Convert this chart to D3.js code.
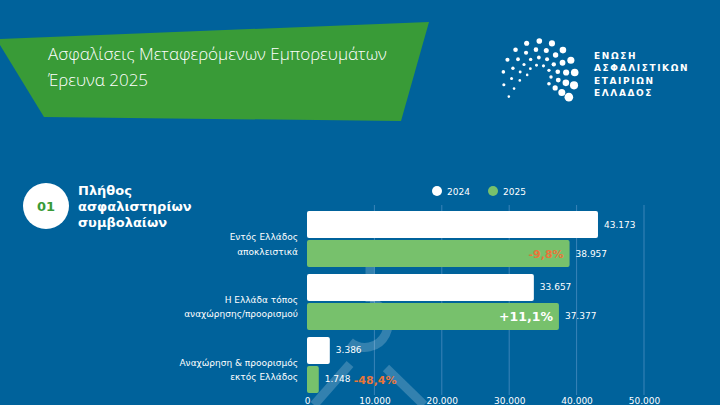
<!DOCTYPE html>
<html>
<head>
<meta charset="utf-8">
<script src="https://cdn.jsdelivr.net/npm/d3@7/dist/d3.min.js"></script>
<style>
  html, body { margin: 0; padding: 0; background: #00629b; }
  svg { display: block; }
</style>
</head>
<body>
<div id="chart"></div>
<script>
// data
const categories = [
  ["Εντός Ελλάδος", "αποκλειστικά"],
  ["Η Ελλάδα τόπος", "αναχώρησης/προορισμού"],
  ["Αναχώρηση & προορισμός", "εκτός Ελλάδος"]
];
const years = ["2024", "2025"];
const values2024 = [43173, 33657, 3386];
const values2025 = [38957, 37377, 1748];
const changes = ["-9,8%", "+11,1%", "-48,4%"];
const xTicks = [0, 10000, 20000, 30000, 40000, 50000];

const W = 720, H = 405;
const blue = "#00629b", green = "#399b37", barGreen = "#77c16c", orange = "#e8763a";
const fmt = d3.formatLocale({ decimal: ",", thousands: ".", grouping: [3] }).format(",");

const svg = d3.select("#chart").append("svg")
  .attr("width", W).attr("height", H)
  .style("font-family", "'DejaVu Sans', Verdana, sans-serif");

svg.append("rect").attr("width", W).attr("height", H).attr("fill", blue);

// title banner
svg.append("polygon")
  .attr("points", "0,39 429,22 401,121 44,117 0,45")
  .attr("fill", green);

const title = svg.append("text")
  .attr("fill", "#fff")
  .style("font-family", "'Open Sans', sans-serif")
  .style("font-weight", 300)
  .style("font-size", "17px");
title.append("tspan").attr("x", 48).attr("y", 60).text("Ασφαλίσεις Μεταφερόμενων Εμπορευμάτων");
title.append("tspan").attr("x", 48).attr("y", 86).text("Έρευνα 2025");

// logo: rings of dots growing clockwise
const logo = svg.append("g").attr("transform", "translate(539,77)");
const rings = [
  { r: 36, n: 13, max: 4.3, from: 213 },
  { r: 27.5, n: 12, max: 3.5, from: 205 },
  { r: 19.5, n: 10, max: 2.6, from: 190 },
  { r: 12, n: 7, max: 1.8, from: 170 }
];
rings.forEach(ring => {
  d3.range(ring.n).forEach(k => {
    const t = k / (ring.n - 1);
    const a = (ring.from - t * (ring.from + 34)) * Math.PI / 180;
    logo.append("circle")
      .attr("cx", ring.r * Math.cos(a))
      .attr("cy", -ring.r * Math.sin(a))
      .attr("r", 1.3 + t * (ring.max - 1.3))
      .attr("fill", "#fff");
  });
});
const logoText = ["ΕΝΩΣΗ", "ΑΣΦΑΛΙΣΤΙΚΩΝ", "ΕΤΑΙΡΙΩΝ", "ΕΛΛΑΔΟΣ"];
svg.append("g").selectAll("text").data(logoText).join("text")
  .attr("x", 594).attr("y", (d, i) => 58.5 + i * 12.5)
  .attr("fill", "#fff")
  .style("font-size", "9px").style("font-weight", "bold")
  .style("letter-spacing", "1.6px")
  .text(d => d);

// section heading
svg.append("circle").attr("cx", 46).attr("cy", 206).attr("r", 23).attr("fill", "#fff");
svg.append("text").attr("x", 46).attr("y", 211)
  .attr("text-anchor", "middle").attr("fill", green)
  .style("font-size", "13px").style("font-weight", "bold").text("01");
svg.append("g").selectAll("text").data(["Πλήθος", "ασφαλιστηρίων", "συμβολαίων"]).join("text")
  .attr("x", 78).attr("y", (d, i) => 195 + i * 16)
  .attr("fill", "#fff")
  .style("font-size", "13px").style("font-weight", "bold")
  .text(d => d);

// scales
const x = d3.scaleLinear().domain([0, 50000]).range([307, 644]);
const y = d3.scaleBand().domain(d3.range(categories.length)).range([211, 393]).paddingInner(0.111);
const ySub = d3.scaleBand().domain(years).range([0, y.bandwidth()]).paddingInner(0.069);

// gridlines
svg.append("g").selectAll("line").data(xTicks.slice(1)).join("line")
  .attr("x1", d => x(d)).attr("x2", d => x(d))
  .attr("y1", 205).attr("y2", 395)
  .attr("stroke", "#3a84b8").attr("stroke-width", 1);

// faint hook watermark
const wm = svg.append("g").attr("fill", "none")
  .attr("stroke", "#fff").attr("stroke-opacity", 0.2).attr("stroke-width", 9);
wm.append("line").attr("x1", 370).attr("y1", 262).attr("x2", 370).attr("y2", 302);
wm.append("path").attr("d", "M370,302 A23,23 0 1,1 350,342");
wm.append("line").attr("x1", 350).attr("y1", 364).attr("x2", 314).attr("y2", 405);
wm.append("line").attr("x1", 386).attr("y1", 368).attr("x2", 424).attr("y2", 405);

// x axis
const xAxis = svg.append("g")
  .attr("transform", "translate(0,393)")
  .call(d3.axisBottom(x).tickValues(xTicks).tickFormat(fmt).tickSize(0).tickPadding(5));
xAxis.select(".domain").remove();
xAxis.selectAll("text").attr("fill", "#fff").style("font-size", "9px")
  .style("font-family", "'DejaVu Sans', Verdana, sans-serif");

// bars
const rows = categories.map((c, i) => ({ i, v24: values2024[i], v25: values2025[i], ch: changes[i] }));
const g = svg.append("g").selectAll("g").data(rows).join("g")
  .attr("transform", d => `translate(0,${y(d.i)})`);

g.append("rect")
  .attr("x", x(0)).attr("y", ySub("2024"))
  .attr("width", d => x(d.v24) - x(0)).attr("height", ySub.bandwidth())
  .attr("rx", 2).attr("fill", "#fff");
g.append("rect")
  .attr("x", x(0)).attr("y", ySub("2025"))
  .attr("width", d => x(d.v25) - x(0)).attr("height", ySub.bandwidth())
  .attr("rx", 2).attr("fill", barGreen);

g.append("text")
  .attr("x", d => x(d.v24) + 6).attr("y", ySub("2024") + ySub.bandwidth() / 2 + 3)
  .attr("fill", "#fff").style("font-size", "9px")
  .text(d => fmt(d.v24));
g.append("text")
  .attr("x", d => x(d.v25) + 6).attr("y", ySub("2025") + ySub.bandwidth() / 2 + 3)
  .attr("fill", "#fff").style("font-size", "9px")
  .text(d => fmt(d.v25));

// change labels
g.append("text")
  .attr("x", d => d.i === 2 ? x(d.v25) + 35 : x(d.v25) - 6)
  .attr("y", ySub("2025") + ySub.bandwidth() / 2 + 4.5)
  .attr("text-anchor", d => d.i === 2 ? "start" : "end")
  .attr("fill", d => d.ch.startsWith("+") ? "#fff" : orange)
  .style("font-weight", "bold")
  .style("font-size", d => d.ch.startsWith("+") ? "12.5px" : "11px")
  .text(d => d.ch);

// category labels
g.append("text")
  .attr("text-anchor", "end").attr("fill", "#fff").style("font-size", "9px")
  .selectAll("tspan").data(d => categories[d.i]).join("tspan")
  .attr("x", 298).attr("y", (d, k) => 29 + k * 14.5)
  .text(d => d);

// legend
const legend = svg.append("g").selectAll("g").data(years).join("g")
  .attr("transform", (d, i) => `translate(${437 + i * 56},191)`);
legend.append("circle").attr("r", 5).attr("fill", (d, i) => i ? barGreen : "#fff");
legend.append("text").attr("x", 10).attr("y", 3.5).attr("fill", "#fff")
  .style("font-size", "9px").text(d => d);
</script>
</body>
</html>
